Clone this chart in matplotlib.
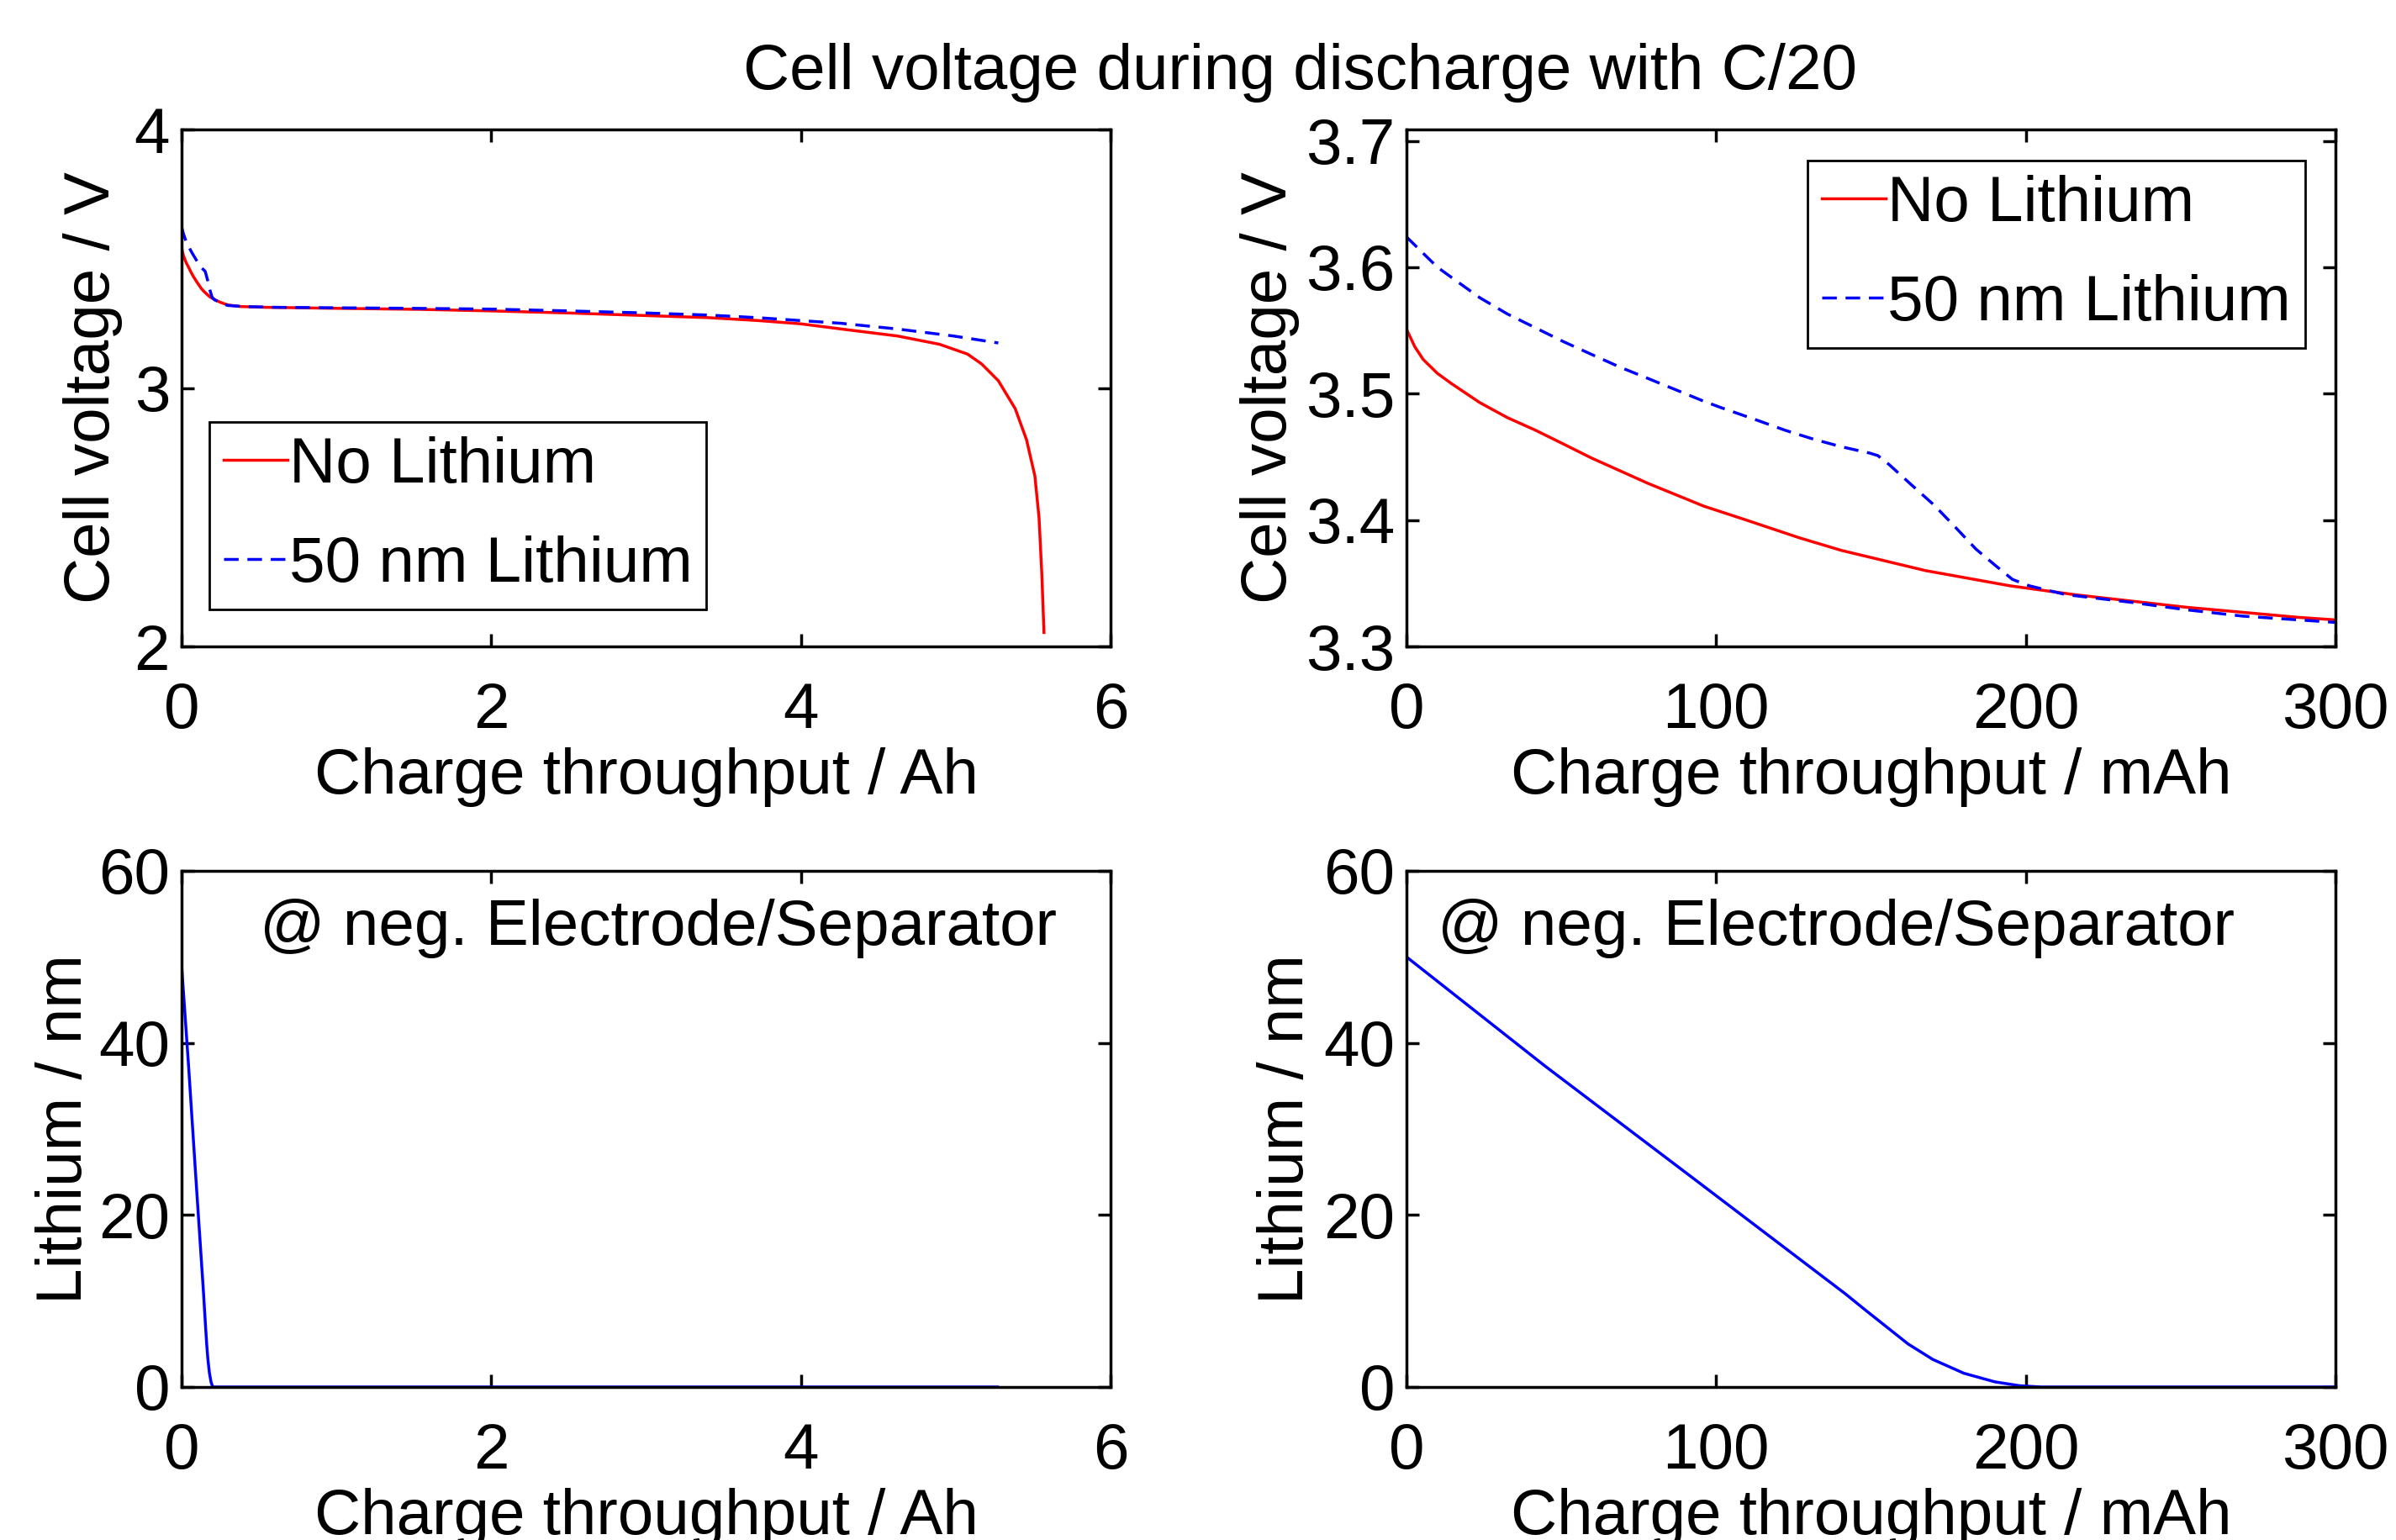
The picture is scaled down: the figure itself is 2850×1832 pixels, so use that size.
import numpy as np
import matplotlib
matplotlib.use("Agg")
import matplotlib.pyplot as plt

# ---------------- data ----------------
# Top-left: cell voltage vs charge throughput (Ah)
ah_nolith = [0.0, 0.0027, 0.0054, 0.010, 0.0145, 0.0236, 0.0326, 0.0417, 0.0508, 0.0598,
             0.0689, 0.078, 0.087, 0.096, 0.11, 0.127, 0.14, 0.154, 0.168, 0.181, 0.195,
             0.216, 0.234, 0.252, 0.27, 0.3, 0.377, 0.54, 1.0, 1.54, 2.0, 2.5, 3.0, 3.4,
             3.717, 4.0, 4.261, 4.623, 4.895, 5.076, 5.167, 5.275, 5.384, 5.457, 5.511,
             5.538, 5.556, 5.57]
v_nolith = [3.551, 3.537, 3.527, 3.516, 3.508, 3.493, 3.481, 3.471, 3.46, 3.449,
            3.439, 3.429, 3.421, 3.412, 3.40, 3.385, 3.376, 3.368, 3.36, 3.353, 3.348,
            3.341, 3.336, 3.331, 3.327, 3.321, 3.315, 3.312, 3.308, 3.304, 3.298, 3.29,
            3.28, 3.272, 3.261, 3.248, 3.228, 3.201, 3.169, 3.131, 3.093, 3.028, 2.92,
            2.80, 2.66, 2.498, 2.28, 2.054]
ah_50nm = [0.0, 0.0054, 0.010, 0.0145, 0.0236, 0.0326, 0.0417, 0.0508, 0.0598, 0.0689,
           0.078, 0.087, 0.096, 0.1015, 0.1132, 0.1223, 0.1314, 0.1404, 0.1495, 0.1522,
           0.1558, 0.163, 0.1703, 0.1766, 0.1839, 0.1902, 0.1957, 0.2011, 0.2129, 0.234,
           0.252, 0.27, 0.3, 0.4, 0.6, 1.0, 1.5, 2.0, 2.5, 3.0, 3.4, 3.717, 4.261, 4.623,
           4.985, 5.275]
v_50nm = [3.624, 3.611, 3.60, 3.592, 3.576, 3.563, 3.552, 3.541, 3.531, 3.521,
          3.512, 3.503, 3.494, 3.489, 3.479, 3.471, 3.464, 3.458, 3.453, 3.451,
          3.444, 3.428, 3.412, 3.396, 3.377, 3.364, 3.353, 3.348, 3.341, 3.335,
          3.329, 3.324, 3.319, 3.315, 3.312, 3.31, 3.308, 3.305, 3.298, 3.29, 3.282,
          3.272, 3.25, 3.228, 3.201, 3.174]

# Top-right: zoom, charge throughput in mAh
mah_nolith = [0, 2.7, 5.4, 10, 14.5, 23.6, 32.6, 41.7, 50.8, 59.8, 68.9, 78, 87, 96,
              109.7, 126.8, 140.4, 154, 167.6, 181.2, 194.8, 215.6, 233.7, 251.8, 270,
              288, 300]
vz_nolith = [3.551, 3.537, 3.527, 3.516, 3.508, 3.493, 3.481, 3.471, 3.46, 3.449,
             3.439, 3.429, 3.42, 3.411, 3.40, 3.386, 3.376, 3.368, 3.36, 3.354, 3.348,
             3.341, 3.336, 3.331, 3.327, 3.323, 3.321]
mah_50nm = [0, 5.4, 10, 14.5, 23.6, 32.6, 41.7, 50.8, 59.8, 68.9, 78, 87, 96, 101.5,
            113.2, 122.3, 131.4, 140.4, 149.5, 152.2, 155.8, 163, 170.3, 176.6, 183.9,
            190.2, 195.7, 201.1, 212.9, 233.7, 251.8, 270, 288, 300]
vz_50nm = [3.624, 3.611, 3.60, 3.592, 3.576, 3.563, 3.552, 3.541, 3.531, 3.521,
           3.512, 3.503, 3.494, 3.489, 3.479, 3.471, 3.464, 3.458, 3.453, 3.451,
           3.444, 3.428, 3.412, 3.396, 3.377, 3.364, 3.353, 3.348, 3.341, 3.335,
           3.329, 3.324, 3.321, 3.319]

# Bottom-left: lithium thickness vs Ah
ah_li = [0.0, 0.045, 0.093, 0.142, 0.148, 0.155, 0.162, 0.17, 0.18, 0.19, 0.198, 0.205,
         1.0, 2.0, 3.0, 4.0, 5.0, 5.27]
li_nm = [49.0, 37.35, 24.1, 10.84, 9.0, 7.0, 5.0, 3.2, 1.6, 0.6, 0.15, 0.0, 0.0, 0.0,
         0.0, 0.0, 0.0, 0.0]

# Bottom-right: lithium thickness vs mAh
mah_li = [0, 44.6, 93.2, 141.7, 148, 155, 162, 170, 180, 190, 198, 205, 250, 300]
liz_nm = [50, 37.35, 24.1, 10.84, 9.0, 7.0, 5.0, 3.2, 1.6, 0.6, 0.15, 0.0, 0.0, 0.0]

labels = ["No Lithium", "50 nm Lithium"]
title = "Cell voltage during discharge with C/20"
annot = "@ neg. Electrode/Separator"

# ---------------- style ----------------
FS = 55
plt.rcParams['font.family'] = ['Liberation Sans', 'DejaVu Sans']
plt.rcParams['font.size'] = FS
plt.rcParams['axes.linewidth'] = 2.5
plt.rcParams['lines.linewidth'] = 2.5

fig = plt.figure(figsize=(28.5, 18.32), dpi=100)
W, H = 2850, 1832

def add_ax(x0, y0, x1, y1):
    return fig.add_axes([x0 / W, 1 - y1 / H, (x1 - x0) / W, (y1 - y0) / H])

ax_tl = add_ax(216, 154, 1321, 769)
ax_tr = add_ax(1673, 154, 2778, 769)
ax_bl = add_ax(216, 1036, 1321, 1650)
ax_br = add_ax(1673, 1036, 2778, 1650)

dash = (0, (5, 3))
red = '#ff0000'
blue = '#0000ff'

for ax in (ax_tl, ax_tr, ax_bl, ax_br):
    ax.tick_params(direction='in', length=11, width=2.5, top=True, right=True,
                   labelsize=FS)
    ax.tick_params(axis='x', pad=30)
    ax.tick_params(axis='y', pad=10)

leg_kw = dict(borderaxespad=0, handlelength=1.0, handletextpad=0.02,
              labelspacing=0.62, borderpad=0.22, fancybox=False,
              edgecolor='black', framealpha=1, fontsize=FS)

# top-left
ax_tl.plot(ah_nolith, v_nolith, color=red, lw=2.5, label=labels[0])
ax_tl.plot(ah_50nm, v_50nm, color=blue, lw=2.5, ls=dash, label=labels[1])
ax_tl.set_xlim(0, 6)
ax_tl.set_ylim(2, 4)
ax_tl.set_xticks([0, 2, 4, 6])
ax_tl.set_yticks([2, 3, 4])
ax_tl.set_xlabel("Charge throughput / Ah")
ax_tl.set_ylabel("Cell voltage / V")
ax_tl.yaxis.set_label_coords(-0.063, 0.5)
ax_tl.xaxis.set_label_coords(0.5, -0.195)
leg = ax_tl.legend(loc='lower left', bbox_to_anchor=(0.030, 0.0715), **leg_kw)
leg.get_frame().set_linewidth(2.0)

# top-right
ax_tr.plot(mah_nolith, vz_nolith, color=red, lw=2.5, label=labels[0])
ax_tr.plot(mah_50nm, vz_50nm, color=blue, lw=2.5, ls=dash, label=labels[1])
ax_tr.set_xlim(0, 300)
ax_tr.set_ylim(3.3, 3.709)
ax_tr.set_xticks([0, 100, 200, 300])
ax_tr.set_yticks([3.3, 3.4, 3.5, 3.6, 3.7])
ax_tr.set_yticklabels(["3.3", "3.4", "3.5", "3.6", "3.7"])
ax_tr.set_xlabel("Charge throughput / mAh")
ax_tr.set_ylabel("Cell voltage / V")
ax_tr.yaxis.set_label_coords(-0.115, 0.5)
ax_tr.xaxis.set_label_coords(0.5, -0.195)
leg = ax_tr.legend(loc='upper right', bbox_to_anchor=(0.967, 0.940), **leg_kw)
leg.get_frame().set_linewidth(2.0)

# bottom-left
ax_bl.plot(ah_li, li_nm, color=blue, lw=2.5)
ax_bl.set_xlim(0, 6)
ax_bl.set_ylim(0, 60)
ax_bl.set_xticks([0, 2, 4, 6])
ax_bl.set_yticks([0, 20, 40, 60])
ax_bl.set_xlabel("Charge throughput / Ah")
ax_bl.set_ylabel("Lithium / nm")
ax_bl.yaxis.set_label_coords(-0.093, 0.5)
ax_bl.xaxis.set_label_coords(0.5, -0.195)
ax_bl.text(0.084, 0.857, annot, transform=ax_bl.transAxes, ha='left', va='baseline',
           fontsize=FS)

# bottom-right
ax_br.plot(mah_li, liz_nm, color=blue, lw=2.5)
ax_br.set_xlim(0, 300)
ax_br.set_ylim(0, 60)
ax_br.set_xticks([0, 100, 200, 300])
ax_br.set_yticks([0, 20, 40, 60])
ax_br.set_xlabel("Charge throughput / mAh")
ax_br.set_ylabel("Lithium / nm")
ax_br.yaxis.set_label_coords(-0.097, 0.5)
ax_br.xaxis.set_label_coords(0.5, -0.195)
ax_br.text(0.0335, 0.857, annot, transform=ax_br.transAxes, ha='left', va='baseline',
           fontsize=FS)

fig.text(1547 / W, 1 - 87 / H, title, ha='center', va='center', fontsize=FS)

fig.savefig("out.png", dpi=100)
